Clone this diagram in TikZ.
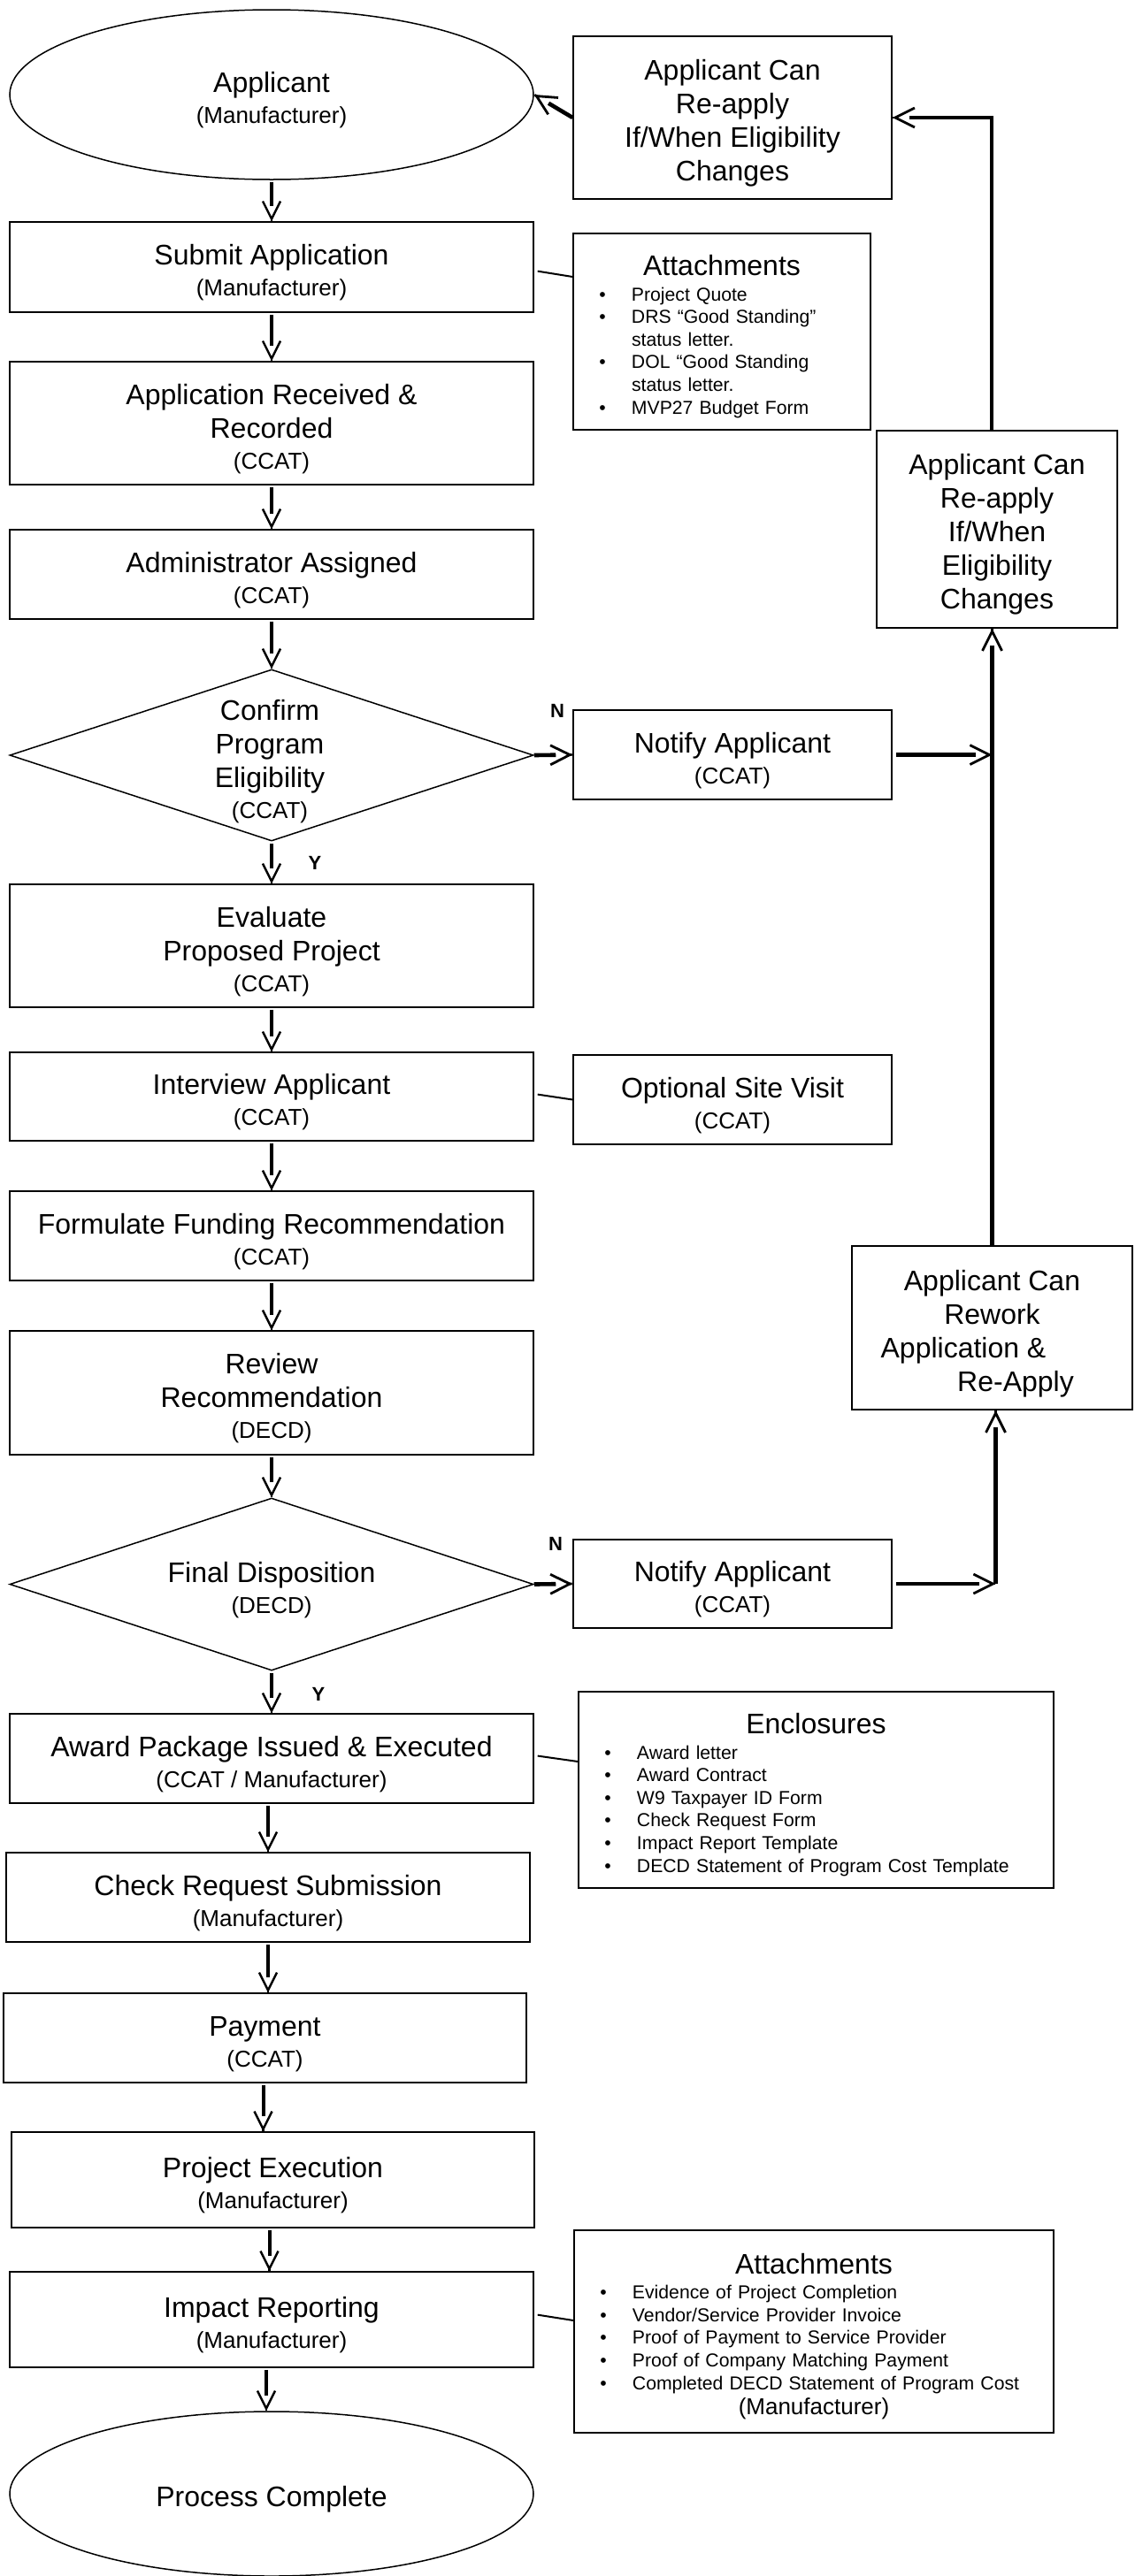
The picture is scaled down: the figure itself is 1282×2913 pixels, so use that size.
\documentclass[tikz,border=0pt]{standalone}
\usepackage{fontspec}
\setmainfont{Liberation Sans}
\usetikzlibrary{shapes.geometric,arrows.meta,calc}
\newcommand{\mainf}{\fontsize{16pt}{19pt}\selectfont}
\newcommand{\subf}{\fontsize{13pt}{19pt}\selectfont}
\newcommand{\subl}[1]{\\[-1.5pt]{\subf #1}}
\newcommand{\st}{\rule{0pt}{17.8pt}}
\newcommand{\listf}{\fontsize{10.6pt}{12.8pt}\selectfont}
\newcommand{\headf}{\fontsize{16pt}{12.8pt}\selectfont}
\newcommand{\blt}{\hspace*{14.5pt}\makebox[4pt]{\textbullet}\hspace*{14.5pt}}
\newcommand{\nob}{\hspace*{33pt}}
% connector: shaft stops at the base of an open arrow head
\newcommand{\flowarrow}[2]{\draw[flowshaft] (#1) -- (#2); \draw[flowtip] ($(#2)!0.3pt!(#1)$) -- (#2);}
\newcommand{\bigarrow}[2]{\draw[bigshaft] (#1) -- (#2); \draw[bigtip] ($(#2)!0.3pt!(#1)$) -- (#2);}
\begin{document}
\begin{tikzpicture}[x=0.5pt,y=-0.5pt,
  box/.style={draw=black, line width=0.75pt, rectangle, inner sep=0pt, align=center, font=\mainf},
  term/.style={draw=black, ellipse, line width=0.75pt, inner sep=0pt, align=center, font=\mainf},
  decision/.style={draw=black, diamond, line width=0.75pt, inner sep=0pt},
  txt/.style={inner sep=0pt, align=center, font=\mainf},
  listbox/.style={draw=black, line width=0.75pt, rectangle, inner sep=0pt, align=left, font=\listf,
    execute at begin node={\rule{0pt}{17pt}}},
  flowshaft/.style={line width=2pt, shorten <=1pt, shorten >=8.5pt},
  flowtip/.style={line width=1.2pt, -{Straight Barb[length=10pt,width=10pt,line width=1.2pt]}},
  bigshaft/.style={line width=2.3pt, shorten >=9.5pt},
  bigtip/.style={line width=1.4pt, -{Straight Barb[length=11pt,width=11pt,line width=1.4pt]}},
  side/.style={line width=1pt, shorten <=2pt},
  yn/.style={inner sep=0pt, font=\bfseries\fontsize{11pt}{13pt}\selectfont}
]
\useasboundingbox (0,0) rectangle (1282,2913);

% main column
\node[term, minimum width=296pt, minimum height=96pt] (app) at (307,107) {\st Applicant\subl{(Manufacturer)}};
\node[box, minimum width=296pt, minimum height=51pt] (submit) at (307,302) {\st Submit Application\subl{(Manufacturer)}};
\node[box, minimum width=296pt, minimum height=69.5pt] (recv) at (307,478.5) {\st Application Received \&\\Recorded\subl{(CCAT)}};
\node[box, minimum width=296pt, minimum height=50.5pt] (admin) at (307,649.5) {\st Administrator Assigned\subl{(CCAT)}};
\node[decision, minimum width=296pt, minimum height=97pt] (elig) at (307,854) {};
\node[txt] (eligtxt) at (305,861) {Confirm\\Program\\Eligibility\subl{(CCAT)}};
\node[box, minimum width=296pt, minimum height=69.5pt] (eval) at (307,1069.5) {\st Evaluate\\Proposed Project\subl{(CCAT)}};
\node[box, minimum width=296pt, minimum height=50pt] (interview) at (307,1240) {\st Interview Applicant\subl{(CCAT)}};
\node[box, minimum width=296pt, minimum height=50.5pt] (formul) at (307,1397.5) {\st Formulate Funding Recommendation\subl{(CCAT)}};
\node[box, minimum width=296pt, minimum height=70pt] (review) at (307,1575) {\st Review\\Recommendation\subl{(DECD)}};
\node[decision, minimum width=296pt, minimum height=97.5pt] (final) at (307,1791.5) {};
\node[txt] (finaltxt) at (307,1798.5) {Final Disposition\subl{(DECD)}};
\node[box, minimum width=296pt, minimum height=50.5pt] (award) at (307,1988.5) {\st Award Package Issued \& Executed\subl{(CCAT / Manufacturer)}};
\node[box, minimum width=296pt, minimum height=50.5pt] (check) at (303,2145.5) {\st Check Request Submission\subl{(Manufacturer)}};
\node[box, minimum width=295.5pt, minimum height=50.5pt] (payment) at (299.5,2304.5) {\st Payment\subl{(CCAT)}};
\node[box, minimum width=295.5pt, minimum height=54pt] (projexec) at (308.5,2465) {\st Project Execution\subl{(Manufacturer)}};
\node[box, minimum width=296pt, minimum height=54pt] (impact) at (307,2623) {\st Impact Reporting\subl{(Manufacturer)}};
\node[term, minimum width=296pt, minimum height=93pt] (done) at (307,2820) {\st Process Complete};

% right side
\node[box, minimum width=180pt, minimum height=92pt] (reapply1) at (828,133) {\st Applicant Can\\Re-apply\\If/When Eligibility\\Changes};
\node[listbox, text width=168pt, minimum height=111pt] (attach1) at (816,375) {%
\makebox[168pt]{\headf Attachments}\\[1.5pt]
\blt Project Quote\\
\blt DRS “Good Standing”\\
\nob status letter.\\
\blt DOL “Good Standing\\
\nob status letter.\\
\blt MVP27 Budget Form};
\node[box, minimum width=136pt, minimum height=111.5pt] (reapply2) at (1127,598.5) {\st Applicant Can\\Re-apply\\If/When\\Eligibility\\Changes};
\node[box, minimum width=180pt, minimum height=50.5pt] (notify1) at (828,853.5) {\st Notify Applicant\subl{(CCAT)}};
\node[box, minimum width=180pt, minimum height=50.5pt] (optional) at (828,1243.5) {\st Optional Site Visit\subl{(CCAT)}};
\node[box, minimum width=158.5pt, minimum height=92.5pt] (rework) at (1121.5,1501.5) {\st Applicant Can\\Rework\\Application \&\hspace*{32.5pt}\null\\\null\hspace*{26.5pt}Re-Apply};
\node[box, minimum width=180pt, minimum height=50pt] (notify2) at (828,1791) {\st Notify Applicant\subl{(CCAT)}};
\node[listbox, text width=268.5pt, minimum height=111pt] (enclos) at (922.5,2024) {%
\makebox[268.5pt]{\headf Enclosures}\\[1.5pt]
\blt Award letter\\
\blt Award Contract\\
\blt W9 Taxpayer ID Form\\
\blt Check Request Form\\
\blt Impact Report Template\\
\blt DECD Statement of Program Cost Template};
\node[listbox, text width=271pt, minimum height=114.5pt] (attach2) at (920,2636.5) {%
\makebox[271pt]{\headf Attachments}\\[1.5pt]
\blt Evidence of Project Completion\\
\blt Vendor/Service Provider Invoice\\
\blt Proof of Payment to Service Provider\\
\blt Proof of Company Matching Payment\\
\blt Completed DECD Statement of Program Cost\\[1.5pt]
\makebox[271pt]{\subf (Manufacturer)}};

% labels
\node[yn] (n1) at (630,804) {N};
\node[yn] (y1) at (356,976) {Y};
\node[yn] (n2) at (628,1746) {N};
\node[yn] (y2) at (360,1916) {Y};

% main flow
\flowarrow{app.south}{submit.north}
\flowarrow{submit.south}{recv.north}
\flowarrow{recv.south}{admin.north}
\flowarrow{admin.south}{elig.north}
\flowarrow{elig.south}{eval.north}
\flowarrow{eval.south}{interview.north}
\flowarrow{interview.south}{formul.north}
\flowarrow{formul.south}{review.north}
\flowarrow{review.south}{final.north}
\flowarrow{final.south}{award.north}
\flowarrow{[xshift=-2pt]award.south}{[xshift=-2pt]award.south |- check.north}
\flowarrow{check.south}{check.south |- payment.north}
\flowarrow{[xshift=-1pt]payment.south}{[xshift=-1pt]payment.south |- projexec.north}
\flowarrow{[xshift=-2pt]projexec.south}{[xshift=-2pt]projexec.south |- impact.north}
\flowarrow{[xshift=-3pt]impact.south}{[xshift=-3pt]impact.south |- done.north}

% N branches
\bigarrow{elig.east}{notify1.west}
\bigarrow{final.east}{notify2.west}

% side notes
\draw[side] ([yshift=-2pt]submit.east) -- ([yshift=31pt]attach1.west);
\draw[side] ([yshift=1.5pt]interview.east) -- (optional.west);
\draw[side] ([yshift=1.75pt]award.east) -- ([yshift=16pt]enclos.west);
\draw[side] ([yshift=3pt]impact.east) -- ([yshift=6.25pt]attach2.west);

% loop-back
\coordinate (c1) at (notify1.east -| rework.north);
\coordinate (c2) at ([xshift=2pt]notify2.east -| rework.south);
\coordinate (c3) at ([xshift=-3pt]reapply2.north |- reapply1.east);
\bigarrow{[xshift=2pt]notify1.east}{c1}
\bigarrow{rework.north}{rework.north |- reapply2.south}
\bigarrow{[xshift=2pt]notify2.east}{c2}
\draw[bigshaft, shorten >=0pt] (c2) -- ([yshift=1.15pt]c2);
\bigarrow{c2}{c2 |- rework.south}
\draw[bigshaft, shorten >=0pt, line join=miter] ([xshift=-3pt]reapply2.north) -- (c3) -- ([xshift=1pt]c3);
\bigarrow{c3}{reapply1.east}
\bigarrow{reapply1.west}{app.east}
\end{tikzpicture}
\end{document}
